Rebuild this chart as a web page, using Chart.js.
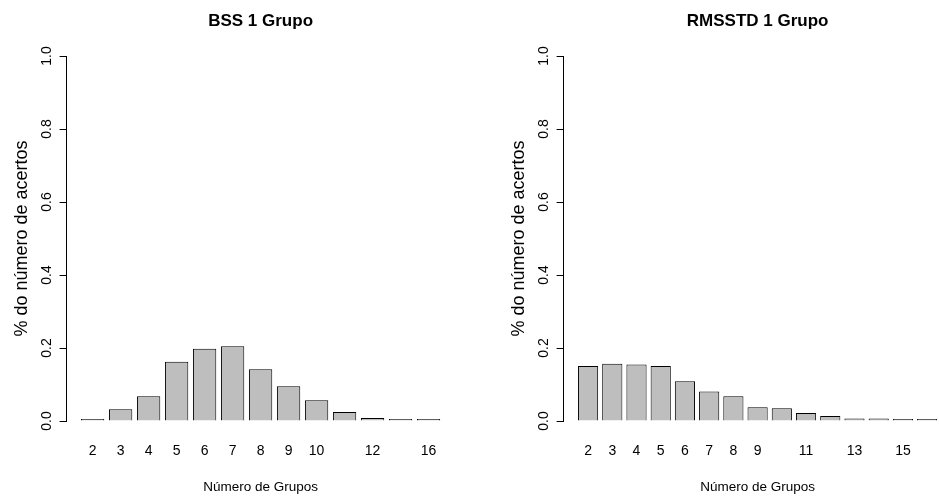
<!DOCTYPE html>
<html><head><meta charset="utf-8">
<script src="https://cdn.jsdelivr.net/npm/chart.js@4"></script>
<style>
html,body{margin:0;padding:0;background:#fff;width:939px;height:497px;overflow:hidden;position:relative;}
.wrap{position:absolute;top:0;width:498px;height:497px;}
</style></head><body>
<div class="wrap" style="left:0"><canvas id="c1" width="498" height="497"></canvas></div>
<div class="wrap" style="left:497px"><canvas id="c2" width="498" height="497"></canvas></div>
<script>
// ---- data ----
const bssCategories = ['2','3','4','5','6','7','8','9','10','11','12','13','16'];
const bssValues     = [0.005,0.032,0.068,0.162,0.198,0.205,0.142,0.095,0.057,0.025,0.008,0.002,0.002];
const bssTickLabels = ['2','3','4','5','6','7','8','9','10','','12','','16'];

const rmsCategories = ['2','3','4','5','6','7','8','9','10','11','12','13','14','15','16'];
const rmsValues     = [0.151,0.157,0.155,0.151,0.109,0.081,0.068,0.038,0.035,0.022,0.014,0.007,0.007,0.003,0.005];
const rmsTickLabels = ['2','3','4','5','6','7','8','9','','11','','13','','15',''];

const yTickValues = [0,0.2,0.4,0.6,0.8,1.0];
const titles = ['BSS 1 Grupo','RMSSTD 1 Grupo'];
const xTitle = 'Número de Grupos';
const yTitle = '% do número de acertos';

const FONT = '"Liberation Sans", Arial, Helvetica, sans-serif';

function makeChart(id, title, cats, vals, tickLabels) {
  const n = cats.length;
  // R barplot geometry: width 1, space 0.2
  const centers = cats.map((_, i) => 0.7 + 1.2 * i);
  const lo = 0.2, hi = 1.2 * n, ext = 0.04 * (hi - lo);
  return new Chart(document.getElementById(id), {
    type: 'bar',
    data: {
      datasets: [{
        data: vals.map((v, i) => ({x: centers[i], y: v})),
        backgroundColor: '#BEBEBE',
        borderColor: '#000000',
        borderWidth: 1,
        minBarLength: 2,
        barPercentage: 1 / 1.2,
        categoryPercentage: 1
      }]
    },
    options: {
      responsive: false,
      animation: false,
      devicePixelRatio: 1,
      layout: {padding: {left: 0, right: 43.4, top: 0, bottom: 0}},
      plugins: {
        legend: {display: false},
        tooltip: {enabled: false},
        title: {display: false}
      },
      scales: {
        x: {
          type: 'linear', offset: false,
          min: lo - ext, max: hi + ext,
          grid: {display: false, drawTicks: false},
          border: {display: false},
          afterBuildTicks: s => { s.ticks = centers.map(v => ({value: v})); },
          ticks: {
            autoSkip: false, maxRotation: 0, minRotation: 0, padding: 21.6,
            color: '#000', font: {family: FONT, size: 14},
            callback: (v, i) => tickLabels[i]
          },
          title: {
            display: true, text: xTitle, color: '#000',
            font: {family: FONT, size: 13.5}, padding: {top: 0, bottom: 2}
          },
          afterFit: s => { s.height = 76; }
        },
        xTop: {
          type: 'linear', position: 'top', axis: 'x', offset: false,
          min: lo - ext, max: hi + ext,
          grid: {display: false, drawTicks: false},
          border: {display: false},
          ticks: {display: false},
          title: {
            display: true, text: title, color: '#000',
            font: {family: FONT, size: 17, weight: 'bold'}, padding: {top: 10.8, bottom: 0}
          },
          afterFit: s => { s.height = 56; }
        },
        y: {
          min: 0, max: 1,
          afterBuildTicks: s => { s.ticks = yTickValues.map(v => ({value: v})); },
          ticks: {
            autoSkip: false, minRotation: 90, maxRotation: 90, crossAlign: 'center',
            padding: 3, color: '#000', font: {family: FONT, size: 14},
            callback: v => Number(v).toFixed(1)
          },
          grid: {drawOnChartArea: false, drawTicks: true, tickLength: 7, color: '#000'},
          border: {display: true, color: '#000', width: 1},
          title: {
            display: true, text: yTitle, color: '#000',
            font: {family: FONT, size: 18}, padding: {top: 11.5, bottom: 0}
          },
          afterFit: s => { s.width = 66.6; }
        }
      }
    }
  });
}

makeChart('c1', titles[0], bssCategories, bssValues, bssTickLabels);
makeChart('c2', titles[1], rmsCategories, rmsValues, rmsTickLabels);
</script>
</body></html>
